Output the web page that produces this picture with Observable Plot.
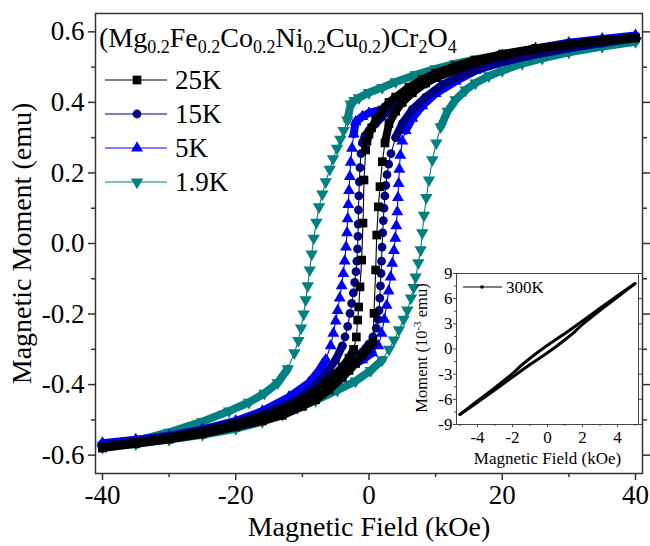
<!DOCTYPE html>
<html><head><meta charset="utf-8">
<script src="https://cdn.jsdelivr.net/npm/d3@7"></script>
<script src="https://cdn.jsdelivr.net/npm/@observablehq/plot@0.6"></script>
<style>
html,body{margin:0;padding:0;background:#fff;}
#wrap{position:relative;width:650px;height:546px;overflow:hidden;}
#inset{position:absolute;left:405px;top:262px;}
</style></head><body><div id="wrap"><div id="main"></div><div id="inset"></div></div>
<script>
const FONT = "'Liberation Serif', 'Times New Roman', serif";

// ---- series labels / colours ----
const temps = ["25K", "15K", "5K", "1.9K"];
const tempColors = ["#000000", "#000080", "#0000ff", "#008080"];

// ---- main loops: [field kOe, moment emu] ----
const K25_down = [[40,0.583],[35,0.575],[30,0.565],[25,0.553],[20,0.537],[16,0.52],[13,0.503],[10,0.483],[8,0.465],[6,0.443],[4,0.415],[3,0.4],[2,0.378],[1,0.35],[0.4,0.328],[0,0.31],[-0.3,0.29],[-0.5,0.265],[-0.75,0.18],[-0.9,0.058],[-1.1,-0.047],[-1.35,-0.123],[-1.55,-0.18],[-1.7,-0.217],[-1.9,-0.265],[-2.3,-0.3],[-3,-0.325],[-4,-0.35],[-5,-0.37],[-6.5,-0.395],[-8.5,-0.425],[-10,-0.443],[-13,-0.47],[-16,-0.49],[-20,-0.51],[-25,-0.533],[-30,-0.55],[-35,-0.565],[-40,-0.578]];
const K25_up = [[-40,-0.58],[-35,-0.568],[-30,-0.555],[-25,-0.54],[-20,-0.52],[-16,-0.503],[-13,-0.487],[-10,-0.462],[-8,-0.443],[-6,-0.415],[-4,-0.38],[-3,-0.36],[-2,-0.34],[-1,-0.318],[-0.3,-0.3],[0.2,-0.29],[0.6,-0.279],[0.75,-0.198],[1.0,-0.075],[1.16,0.024],[1.4,0.104],[1.65,0.161],[2.0,0.232],[2.4,0.285],[3,0.34],[4,0.375],[5,0.4],[6.5,0.427],[8.5,0.455],[10,0.47],[13,0.492],[16,0.512],[20,0.532],[25,0.55],[30,0.563],[35,0.574],[40,0.583]];

const K15_down = [[40,0.585],[35,0.576],[30,0.566],[25,0.552],[20,0.535],[16,0.516],[13,0.497],[10,0.475],[8,0.456],[6,0.432],[4,0.4],[3,0.38],[2,0.36],[1,0.34],[0,0.32],[-0.6,0.305],[-1.0,0.285],[-1.2,0.255],[-1.35,0.215],[-1.45,0.175],[-1.52,0.135],[-1.58,0.095],[-1.62,0.055],[-1.66,0.02],[-1.72,-0.015],[-1.82,-0.05],[-1.95,-0.08],[-2.15,-0.11],[-2.35,-0.14],[-2.6,-0.17],[-2.85,-0.198],[-3.2,-0.235],[-3.6,-0.265],[-4,-0.29],[-5,-0.33],[-6.5,-0.37],[-8.5,-0.41],[-11,-0.443],[-14,-0.47],[-18,-0.497],[-24,-0.525],[-30,-0.547],[-35,-0.56],[-40,-0.572]];
const K15_up = [[-40,-0.576],[-35,-0.566],[-30,-0.553],[-24,-0.533],[-18,-0.508],[-14,-0.487],[-11,-0.465],[-8.5,-0.44],[-6.5,-0.415],[-5,-0.392],[-4,-0.372],[-3,-0.352],[-2,-0.33],[-1,-0.308],[0,-0.285],[0.6,-0.265],[1.1,-0.24],[1.35,-0.215],[1.5,-0.19],[1.62,-0.155],[1.72,-0.12],[1.8,-0.085],[1.88,-0.05],[1.96,-0.01],[2.05,0.03],[2.15,0.065],[2.25,0.1],[2.38,0.135],[2.52,0.165],[2.7,0.195],[2.95,0.225],[3.3,0.255],[4,0.3],[5,0.34],[6.5,0.38],[8.5,0.415],[11,0.45],[14,0.478],[18,0.505],[24,0.532],[30,0.553],[35,0.568],[40,0.582]];

const K5_down = [[40,0.59],[35,0.58],[30,0.569],[25,0.553],[20,0.533],[16,0.513],[13,0.495],[10,0.47],[8,0.45],[6,0.425],[4,0.4],[2,0.38],[0,0.37],[-1,0.36],[-2.0,0.345],[-2.3,0.31],[-2.55,0.27],[-2.75,0.23],[-2.88,0.19],[-3.0,0.15],[-3.1,0.11],[-3.2,0.07],[-3.3,0.03],[-3.45,-0.01],[-3.65,-0.05],[-3.85,-0.085],[-4.1,-0.12],[-4.4,-0.155],[-4.7,-0.19],[-5.0,-0.22],[-5.35,-0.255],[-5.75,-0.29],[-6.5,-0.33],[-7.5,-0.36],[-9,-0.395],[-12,-0.435],[-16,-0.475],[-20,-0.503],[-25,-0.527],[-30,-0.545],[-35,-0.556],[-40,-0.566]];
const K5_up = [[-40,-0.568],[-35,-0.558],[-30,-0.547],[-25,-0.53],[-20,-0.51],[-16,-0.49],[-12,-0.46],[-9,-0.43],[-7,-0.405],[-5,-0.375],[-3,-0.35],[-1,-0.33],[0.5,-0.31],[1.4,-0.29],[1.9,-0.255],[2.3,-0.215],[2.65,-0.175],[2.95,-0.135],[3.25,-0.095],[3.5,-0.056],[3.75,-0.02],[3.95,0.015],[4.1,0.05],[4.25,0.09],[4.35,0.13],[4.45,0.17],[4.55,0.21],[4.7,0.25],[5.0,0.29],[5.5,0.32],[6.5,0.355],[8,0.39],[10,0.425],[13,0.46],[16,0.49],[20,0.515],[25,0.54],[30,0.56],[35,0.575],[40,0.588]];

const K1_9_down = [[40,0.575],[35,0.567],[30,0.558],[25,0.548],[20,0.535],[16,0.522],[13,0.51],[10,0.495],[7,0.478],[4,0.458],[2,0.442],[0,0.428],[-1.5,0.413],[-2.2,0.405],[-2.75,0.395],[-3.25,0.35],[-3.8,0.32],[-4.3,0.295],[-4.8,0.27],[-5.4,0.24],[-5.9,0.21],[-6.5,0.175],[-7.0,0.14],[-7.5,0.104],[-7.9,0.06],[-8.3,0.015],[-8.6,-0.03],[-8.9,-0.075],[-9.2,-0.12],[-9.5,-0.16],[-9.8,-0.2],[-10.2,-0.24],[-10.6,-0.275],[-11.2,-0.31],[-12.2,-0.355],[-13.7,-0.395],[-15.7,-0.425],[-18,-0.45],[-21,-0.475],[-25,-0.505],[-30,-0.535],[-35,-0.56],[-40,-0.572]];
const K1_9_up = [[-40,-0.578],[-35,-0.568],[-30,-0.556],[-25,-0.542],[-20,-0.525],[-16,-0.505],[-13,-0.485],[-10.75,-0.465],[-8,-0.445],[-4.75,-0.416],[-2,-0.39],[0.26,-0.36],[2,-0.33],[3.0,-0.3],[3.75,-0.274],[4.5,-0.245],[5.2,-0.215],[5.76,-0.189],[6.3,-0.155],[6.7,-0.125],[7.0,-0.095],[7.4,-0.055],[7.76,-0.018],[8.0,0.03],[8.26,0.08],[8.6,0.13],[9.0,0.18],[9.5,0.237],[10.1,0.285],[10.76,0.331],[11.8,0.375],[13,0.407],[14.5,0.435],[16,0.455],[18,0.475],[20,0.49],[23,0.51],[26,0.525],[30,0.542],[35,0.558],[40,0.572]];

// ---- inset, 300 K: [field kOe, moment 1e-3 emu] ----
const K300_down = [[5,7.8],[4,6.35],[3,4.85],[2,3.35],[1.5,2.6],[1,1.85],[0.5,1.15],[0,0.45],[-0.5,-0.3],[-1,-1.1],[-1.5,-1.95],[-2,-2.95],[-3,-4.6],[-4,-6.2],[-5,-7.8]];
const K300_up = [[-5,-7.8],[-4,-6.35],[-3,-4.85],[-2,-3.35],[-1.5,-2.6],[-1,-1.85],[-0.5,-1.15],[0,-0.45],[0.5,0.3],[1,1.1],[1.5,1.95],[2,2.95],[3,4.6],[4,6.2],[5,7.8]];

// ---- ticks ----
const xTicks = [-40, -20, 0, 20, 40];
const xMinor = [-30, -10, 10, 30];
const yTicks = [-0.6, -0.4, -0.2, 0, 0.2, 0.4, 0.6];
const yMinor = [-0.5, -0.3, -0.1, 0.1, 0.3, 0.5];
const ixTicks = [-4, -2, 0, 2, 4];
const ixMinor = [-5, -3, -1, 1, 3, 5];
const iyTicks = [-9, -6, -3, 0, 3, 6, 9];
const iyMinor = [-7.5, -4.5, -1.5, 1.5, 4.5, 7.5];

// ---- symbols ----
const sqrt3 = Math.sqrt(3);
const triangleDown = {draw(ctx, size) {
  const y = -Math.sqrt(size / (sqrt3 * 3));
  ctx.moveTo(0, -y * 2); ctx.lineTo(-sqrt3 * y, y); ctx.lineTo(sqrt3 * y, y); ctx.closePath();
}};

const seriesSpec = [
  {T: "1.9K", down: K1_9_down, up: K1_9_up, symbol: triangleDown, d3sym: triangleDown, r: 4.6, band: 0.33},
  {T: "5K", down: K5_down, up: K5_up, symbol: "triangle", d3sym: d3.symbolTriangle, r: 4.4, band: 0.30},
  {T: "15K", down: K15_down, up: K15_up, symbol: "circle", d3sym: d3.symbolCircle, r: 4.4, band: 0.27},
  {T: "25K", down: K25_down, up: K25_up, symbol: "square", d3sym: d3.symbolSquare, r: 4.9, band: 0.27}
];
const colorOf = t => tempColors[temps.indexOf(t)];

const marks = [];
for (const s of seriesSpec) {
  const c = colorOf(s.T);
  const rows = [];
  for (const [branch, arr] of [["down", s.down], ["up", s.up]]) {
    for (const [H, M] of arr) rows.push({H, M, branch, seg: branch + (M > 0 ? "+" : "-")});
  }
  const bandRows = rows.filter(d => Math.abs(d.M) >= s.band);
  marks.push(
    Plot.line(bandRows, {x: "H", y: "M", z: "seg", stroke: c, strokeWidth: 8, strokeLinejoin: "round", strokeLinecap: "round"}),
    Plot.line(rows, {x: "H", y: "M", z: "branch", stroke: c, strokeWidth: 1.1}),
    Plot.dot(rows, {x: "H", y: "M", symbol: s.symbol, r: s.r, fill: c, stroke: "none"})
  );
}

const axisCol = "#333";
const main = Plot.plot({
  width: 650, height: 546,
  marginLeft: 95, marginRight: 8, marginTop: 13, marginBottom: 73,
  x: {domain: [-41.05, 41.05]},
  y: {domain: [-0.652, 0.652]},
  style: {fontFamily: FONT, background: "white", color: "#000"},
  marks: [
    ...marks,
    Plot.frame({stroke: axisCol, strokeWidth: 1.5}),
    Plot.axisX({ticks: xTicks, tickSize: 7, tickPadding: 4, tickFormat: d => String(d), fontSize: 27, label: null, stroke: axisCol, strokeWidth: 1.5}),
    Plot.axisX({ticks: xMinor, tickSize: 4, tickFormat: () => "", label: null, stroke: axisCol, strokeWidth: 1.5}),
    Plot.axisY({ticks: yTicks, tickSize: 7, tickPadding: 4, tickFormat: d => d.toFixed(1), fontSize: 27, label: null, stroke: axisCol, strokeWidth: 1.5}),
    Plot.axisY({ticks: yMinor, tickSize: 4, tickFormat: () => "", label: null, stroke: axisCol, strokeWidth: 1.5}),
    Plot.axisY({anchor: "right", ticks: yTicks, tickSize: 7, tickFormat: () => "", label: null, stroke: axisCol, strokeWidth: 1.5}),
    Plot.axisY({anchor: "right", ticks: yMinor, tickSize: 4, tickFormat: () => "", label: null, stroke: axisCol, strokeWidth: 1.5}),
    Plot.text(["Magnetic Field (kOe)"], {frameAnchor: "bottom", dy: 54, textAnchor: "middle", lineAnchor: "middle", fontSize: 28}),
    Plot.text(["Magnetic Moment (emu)"], {frameAnchor: "left", dx: -73, rotate: -90, textAnchor: "middle", lineAnchor: "middle", fontSize: 28})
  ]
});
document.getElementById("main").appendChild(main);

// title with subscripts
const svg = d3.select(main);
const parts = [["(Mg",0],["0.2",1],["Fe",0],["0.2",1],["Co",0],["0.2",1],["Ni",0],["0.2",1],["Cu",0],["0.2",1],[")Cr",0],["2",1],["O",0],["4",1]];
const title = svg.append("text").attr("x", 99).attr("y", 47).attr("text-anchor", "start")
  .attr("font-family", FONT).attr("font-size", 28).attr("fill", "#000");
let prev = 0;
for (const [t, sub] of parts) {
  const ts = title.append("tspan").text(t).attr("font-size", sub ? 18 : 28);
  if (sub !== prev) ts.attr("dy", sub ? 6 : -6);
  prev = sub;
}

// legend
const legendOrder = ["25K", "15K", "5K", "1.9K"];
const legendY = [80, 114, 148, 182];
const lg = svg.append("g");
legendOrder.forEach((t, i) => {
  const s = seriesSpec.find(d => d.T === t);
  const c = colorOf(t), y = legendY[i];
  lg.append("line").attr("x1", 105).attr("x2", 167).attr("y1", y).attr("y2", y).attr("stroke", c).attr("stroke-width", 1.2);
  lg.append("path").attr("d", d3.symbol().type(s.d3sym).size(Math.PI * s.r * s.r)()).attr("transform", `translate(137,${y})`).attr("fill", c);
  lg.append("text").attr("x", 175).attr("y", y + 9).attr("text-anchor", "start").text(t)
    .attr("font-family", FONT).attr("font-size", 27).attr("fill", "#000");
});

// ---- inset ----
const insetRows = [];
for (const [branch, arr] of [["down", K300_down], ["up", K300_up]]) for (const [H, M] of arr) insetRows.push({H, M, branch});
const inset = Plot.plot({
  width: 240, height: 210,
  marginLeft: 51, marginRight: 7, marginTop: 11, marginBottom: 48,
  x: {domain: [-5.2, 5.2]},
  y: {domain: [-9, 9]},
  style: {fontFamily: FONT, background: "transparent", color: "#000"},
  marks: [
    Plot.frame({fill: "white", stroke: "none"}),
    Plot.line(insetRows, {x: "H", y: "M", z: "branch", stroke: "#000", strokeWidth: 3}),
    Plot.frame({stroke: "#444", strokeWidth: 1}),
    Plot.axisX({ticks: ixTicks, tickSize: 3, tickPadding: 3, tickFormat: d => String(d), fontSize: 17, label: null, stroke: "#444"}),
    Plot.axisX({ticks: ixMinor, tickSize: 2, tickFormat: () => "", label: null, stroke: "#444"}),
    Plot.axisY({ticks: iyTicks, tickSize: 3, tickPadding: 1, tickFormat: d => String(d), fontSize: 17, label: null, stroke: "#444"}),
    Plot.axisY({ticks: iyMinor, tickSize: 2, tickFormat: () => "", label: null, stroke: "#444"}),
    Plot.axisY({anchor: "right", ticks: iyTicks, tickSize: 3, tickFormat: () => "", label: null, stroke: "#444"}),
    Plot.text(["Magnetic Field (kOe)"], {frameAnchor: "bottom", dy: 34, textAnchor: "middle", lineAnchor: "middle", fontSize: 17})
  ]
});
document.getElementById("inset").appendChild(inset);
const isv = d3.select(inset);
const yl = isv.append("text").attr("transform", "translate(22,86) rotate(-90)").attr("text-anchor", "middle")
  .attr("font-family", FONT).attr("font-size", 16.5).attr("fill", "#000");
yl.append("tspan").text("Moment (10");
yl.append("tspan").text("-3").attr("font-size", 11).attr("dy", -6);
yl.append("tspan").text(" emu)").attr("dy", 6);
// inset legend
isv.append("line").attr("x1", 58).attr("x2", 97).attr("y1", 25).attr("y2", 25).attr("stroke", "#000").attr("stroke-width", 1.2);
isv.append("circle").attr("cx", 77).attr("cy", 25).attr("r", 1.8).attr("fill", "#000");
isv.append("text").attr("x", 101).attr("y", 31).attr("text-anchor", "start").text("300K")
  .attr("font-family", FONT).attr("font-size", 17).attr("fill", "#000");
</script></body></html>
